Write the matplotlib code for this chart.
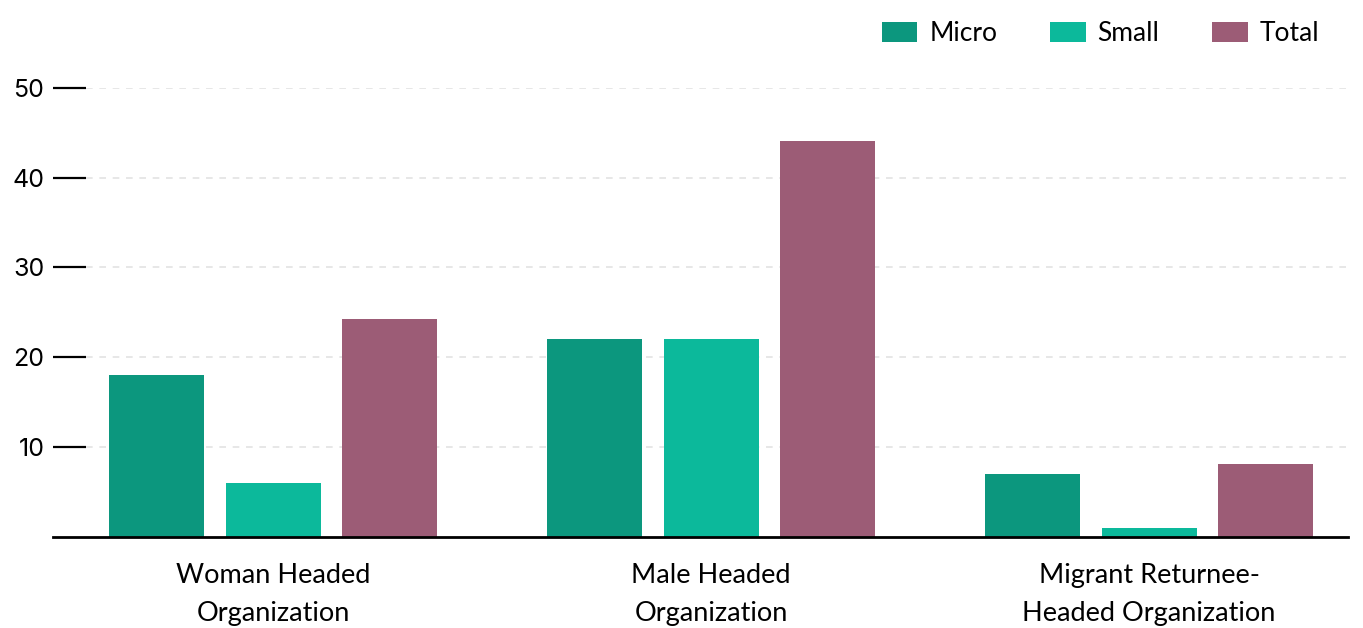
import numpy as np
import matplotlib.pyplot as plt

# datos
grupos = ["Woman Headed\nOrganization", "Male Headed\nOrganization",
          "Migrant Returnee-\nHeaded Organization"]
micro = [18.0, 22.0, 7.0]
small = [6.0, 22.0, 1.0]
total = [24.3, 44.1, 8.1]
series = ["Micro", "Small", "Total"]
colores = ["#0C977E", "#0CB99B", "#9C5C76"]
yticks = [10, 20, 30, 40, 50]

plt.rcParams['font.family'] = ['Lato', 'DejaVu Sans']

fig = plt.figure(figsize=(13.63, 6.28), dpi=100)
ax = fig.add_axes([86 / 1363, 1 - 536.5 / 628, (1348 - 86) / 1363, (536.5 - 88) / 628])

x = np.arange(len(grupos))
ancho = 0.217
paso = 0.266
for i, (vals, nombre, c) in enumerate(zip([micro, small, total], series, colores)):
    ax.bar(x + (i - 1) * paso, vals, ancho, color=c, label=nombre, zorder=3)

ax.set_xlim(-0.427, 2.454)
ax.set_ylim(0, 50)
ax.set_yticks(yticks)
ax.set_yticklabels([str(t) for t in yticks], fontsize=18, family=['Inter', 'DejaVu Sans'])
ax.tick_params(axis='y', length=24, width=1.6, color='black', pad=6)
ax.set_xticks(x)
ax.set_xticklabels(grupos, fontsize=19.5, linespacing=1.68)
ax.tick_params(axis='x', length=0, pad=19)

ax.yaxis.grid(True, linestyle=(0, (4, 4)), color='#e3e3e3', linewidth=1.2, zorder=0)
for s in ['top', 'right', 'left', 'bottom']:
    ax.spines[s].set_visible(False)
ax.axhline(0, xmin=-33 / 1262, xmax=1, color='black', linewidth=2, clip_on=False, zorder=4)

fig.legend(loc='upper right', bbox_to_anchor=(1343 / 1363, 1.004), ncol=3, frameon=False,
           fontsize=19, handlelength=1.35, handleheight=0.8, columnspacing=2.0,
           handletextpad=0.45)

fig.savefig("out.png", dpi=100)
